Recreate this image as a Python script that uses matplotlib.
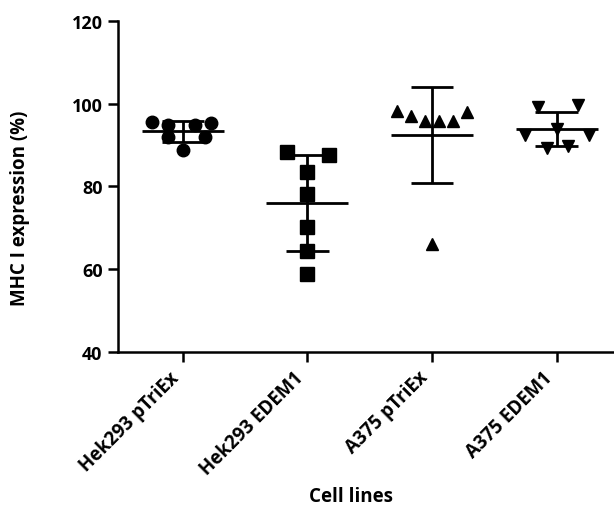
import numpy as np
import matplotlib.pyplot as plt

plt.rcParams['font.family'] = ['Open Sans', 'DejaVu Sans']
plt.rcParams['font.weight'] = 'bold'

# cell lines on the x axis
groups = ["Hek293 pTriEx", "Hek293 EDEM1", "A375 pTriEx", "A375 EDEM1"]

# MHC I expression (%) per replicate
hek_ptriex = [95.5, 95.3, 94.8, 94.8, 92.0, 92.0, 88.7]
hek_edem1 = [88.3, 87.6, 83.6, 78.2, 70.1, 64.5, 58.9]
a375_ptriex = [98.3, 97.1, 95.9, 95.9, 95.9, 97.9, 66.1]
a375_edem1 = [99.2, 99.7, 92.4, 92.4, 89.4, 89.8, 93.8]

# horizontal scatter of the points around each category (category units)
hek_ptriex_dx = [-0.25, 0.23, -0.12, 0.10, -0.12, 0.18, 0.0]
hek_edem1_dx = [-0.16, 0.17, 0.0, 0.0, 0.0, 0.0, 0.0]
a375_ptriex_dx = [-0.28, -0.17, -0.06, 0.06, 0.17, 0.28, 0.0]
a375_edem1_dx = [-0.15, 0.17, -0.25, 0.26, -0.08, 0.09, 0.0]

data = [hek_ptriex, hek_edem1, a375_ptriex, a375_edem1]
offsets = [hek_ptriex_dx, hek_edem1_dx, a375_ptriex_dx, a375_edem1_dx]
markers = ['o', 's', '^', 'v']
sizes = [9, 9.5, 8, 8]

fig = plt.figure(figsize=(6.14, 5.10), dpi=100)
ax = fig.add_axes([0.192, 0.308, 0.808, 0.649])

for i, (vals, dx) in enumerate(zip(data, offsets)):
    vals = np.array(vals)
    xs = i + np.array(dx)
    ax.plot(xs, vals, ls='none', marker=markers[i], ms=sizes[i],
            color='black', zorder=2)
    m = vals.mean()
    sd = vals.std(ddof=1)
    ax.hlines(m, i - 0.33, i + 0.33, color='black', lw=2, zorder=3)
    ax.hlines([m - sd, m + sd], i - 0.17, i + 0.17, color='black', lw=2, zorder=3)
    ax.vlines(i, m - sd, m + sd, color='black', lw=2, zorder=3)

ax.set_xlim(-0.52, 3.46)
ax.set_ylim(40, 120)
ax.set_yticks([40, 60, 80, 100, 120])
ax.set_xticks(range(len(groups)))
ax.set_xticklabels(groups, rotation=45, ha='right', fontsize=13.5, fontweight='bold')
for lab in ax.get_yticklabels():
    lab.set_fontsize(13)
    lab.set_fontweight('bold')

for s in ['top', 'right']:
    ax.spines[s].set_visible(False)
for s in ['left', 'bottom']:
    ax.spines[s].set_linewidth(1.8)
ax.tick_params(width=1.8, length=7, pad=4)

ax.set_xlabel("Cell lines", fontsize=13.5, fontweight='bold')
ax.set_ylabel("MHC I expression (%)", fontsize=13.5, fontweight='bold')
ax.xaxis.set_label_coords(0.47, -0.405)
ax.yaxis.set_label_coords(-0.178, 0.438)

fig.savefig("out.png", dpi=100)
